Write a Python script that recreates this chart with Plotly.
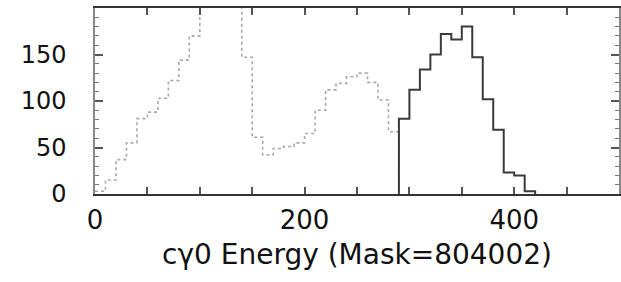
import plotly.graph_objects as go

# dotted series: 10-unit bins from 0 to 290
dot_edges = list(range(0, 300, 10))
dot_values = [3, 15, 37, 55, 81, 88, 103, 122, 144, 170,
              215, 240, 235, 215, 147, 61, 42, 49, 51, 55,
              65, 90, 112, 119, 126, 130, 120, 101, 67]

# solid series: 10-unit bins from 290 to 420
sol_edges = list(range(290, 430, 10))
sol_values = [81, 112, 134, 150, 172, 166, 180, 147, 102, 69, 23, 20, 3]

x_tickvals = list(range(0, 501, 50))
x_ticktext = ['0', '', '', '', '200', '', '', '', '400', '', '']
y_tickvals = [0, 50, 100, 150]
y_ticktext = ['0', '50', '100', '150']
y_minorvals = list(range(0, 201, 10))

FONT = "DejaVu Sans"

# build step traces (hv)
dx = dot_edges[:len(dot_values)] + [dot_edges[len(dot_values)]]
dy = dot_values + [0]
sx = [sol_edges[0]] + sol_edges[:len(sol_values)] + [sol_edges[len(sol_values)]]
sy = [0] + sol_values + [0]

fig = go.Figure()
fig.add_trace(go.Scatter(x=dx, y=dy, mode='lines', line_shape='hv',
                         line=dict(color='#a8a8a8', width=1.6, dash='dot'),
                         showlegend=False, hoverinfo='skip'))
fig.add_trace(go.Scatter(x=sx, y=sy, mode='lines', line_shape='hv',
                         line=dict(color='#3a3a3a', width=2),
                         showlegend=False, hoverinfo='skip'))

fig.update_layout(
    width=621, height=282,
    margin=dict(l=95, r=2, t=8, b=88),
    paper_bgcolor='white', plot_bgcolor='white',
    font=dict(family=FONT, size=26, color='#111'),
    showlegend=False,
)
fig.update_xaxes(
    range=[0, 500], tickmode='array', tickvals=x_tickvals, ticktext=x_ticktext,
    ticks='inside', ticklen=7, tickwidth=1.5, tickcolor='#555',
    showline=True, linecolor='#333', linewidth=2, mirror='ticks',
    showgrid=False, zeroline=False, automargin=False,
    tickfont=dict(family=FONT, size=26),
    title=dict(text='cγ0 Energy (Mask=804002)', standoff=10,
               font=dict(family=FONT, size=28)),
    ticklabelstandoff=2,
)
fig.update_yaxes(
    range=[0, 200], tickmode='array', tickvals=y_tickvals, ticktext=y_ticktext,
    ticks='inside', ticklen=8, tickwidth=1.5, tickcolor='#555',
    minor=dict(ticks='inside', ticklen=4, tickmode='array', tickvals=y_minorvals,
               tickcolor='#777', tickwidth=1),
    showline=True, linecolor='#888', linewidth=1.5, mirror='ticks',
    showgrid=False, zeroline=False, automargin=False,
    tickfont=dict(family=FONT, size=24),
    ticklabelstandoff=22,
)

fig.write_html("out.html", config={'displayModeBar': False},
               post_script="document.body.style.margin='0';")
